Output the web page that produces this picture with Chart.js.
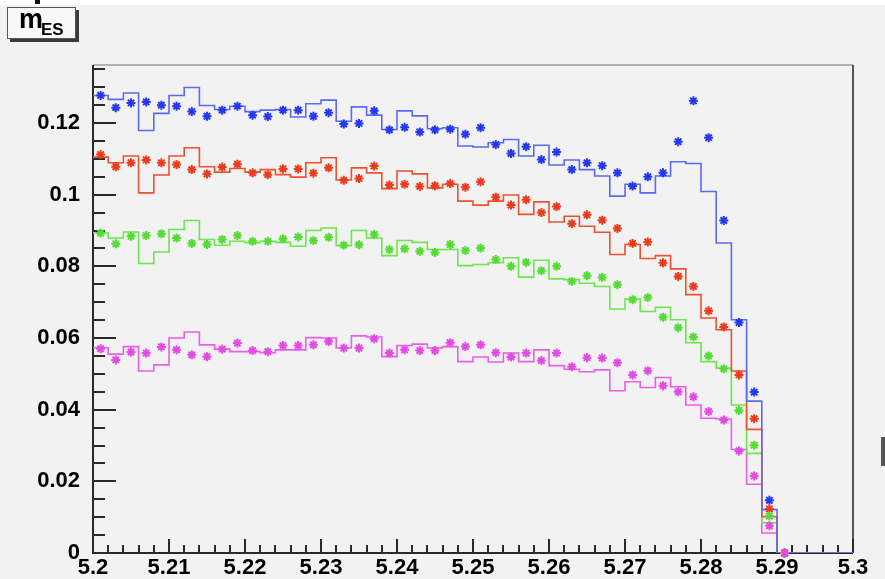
<!DOCTYPE html>
<html lang="en">
<head>
<meta charset="UTF-8" />
<title>mES</title>
<script src="https://cdn.jsdelivr.net/npm/chart.js"></script>
<style>
  body { margin: 0; background: #f2f2f2; }
  #wrap { position: relative; width: 885px; height: 579px; overflow: hidden; background: #f2f2f2; }
  #topstrip { position: absolute; left: 0; top: 0; width: 885px; height: 5px; background: #fff; }
  #topmark { position: absolute; left: 35px; top: 0; width: 5px; height: 4px; background: #111; }
  #rightmark { position: absolute; left: 881px; top: 437px; width: 4px; height: 29px; background: #555; }
  #titlebox { position: absolute; left: 7px; top: 7px; width: 67px; height: 30px; background: #f8f8f8;
              border: 1px solid #555; box-shadow: 3px 3px 0 #3a3a3a; }
  .tt { position: absolute; font-family: "Liberation Sans", Arial, sans-serif; font-weight: bold; line-height: 1; color: #000; }
  #tm { left: 19px; top: 6px; font-size: 27px; }
  #tsub { left: 41px; top: 21px; font-size: 17px; }
  canvas { position: absolute; left: 0; top: 0; }
</style>
</head>
<body>
<div id="wrap">
  <canvas id="chart" width="885" height="579"></canvas>
  <div id="topstrip"></div>
  <div id="topmark"></div>
  <div id="rightmark"></div>
  <div id="titlebox"></div>
  <span class="tt" id="tm">m</span><span class="tt" id="tsub">ES</span>
</div>

<script>
// 50 bins of 0.002 between 5.2 and 5.3
const binLow = 5.2;
const binWidth = 0.002;
const nBins = 50;

const xTicks = [5.2, 5.21, 5.22, 5.23, 5.24, 5.25, 5.26, 5.27, 5.28, 5.29, 5.3];
const yTicks = [0, 0.02, 0.04, 0.06, 0.08, 0.1, 0.12];
const yMax = 0.1362;

// histogram contents (solid step lines)
const blueHist = [0.1277,0.1266,0.1284,0.1179,0.1227,0.1277,0.1299,0.1249,0.1238,0.1247,0.1232,0.1236,0.1238,0.1217,0.1254,0.1264,0.1205,0.1245,
  0.1222,0.1182,0.1234,0.1220,0.1184,0.1187,0.1136,0.1133,0.1145,0.1154,0.1108,0.1138,0.1083,0.1097,0.1070,0.1052,0.0996,
  0.1029,0.1005,0.1052,0.1092,0.1087,0.1009,0.0865,0.0651,0.0424,0.0121,0,0,0,0,0];
const redHist = [0.1105,0.1089,0.1108,0.1005,0.1055,0.1108,0.1131,0.1078,0.1063,0.1073,0.1063,0.1070,0.1056,0.1049,0.1089,0.1103,0.1041,0.1075,
  0.1061,0.1017,0.1066,0.1058,0.1019,0.1029,0.0982,0.0971,0.0982,0.0999,0.0945,0.0980,0.0924,0.0940,0.0912,
  0.0895,0.0833,0.0861,0.0822,0.0830,0.0793,0.0721,0.0656,0.0623,0.0508,0.0345,0.0101,0,0,0,0,0];
const greenHist = [0.0893,0.0879,0.0896,0.0808,0.0840,0.0903,0.0928,0.0875,0.0859,0.0870,0.0866,0.0870,0.0867,0.0856,0.0900,0.0907,0.0858,0.0900,
  0.0879,0.0830,0.0872,0.0867,0.0847,0.0847,0.0802,0.0805,0.0810,0.0824,0.0770,0.0817,0.0765,0.0763,0.0753,0.0744,
  0.0681,0.0709,0.0674,0.0686,0.0651,0.0587,0.0534,0.0516,0.0413,0.0278,0.0084,0,0,0,0,0];
const magentaHist = [0.0573,0.0555,0.0576,0.0508,0.0525,0.0600,0.0617,0.0581,0.0569,0.0562,0.0562,0.0559,0.0567,0.0567,0.0601,0.0600,0.0572,0.0606,
  0.0603,0.0548,0.0579,0.0583,0.0572,0.0576,0.0534,0.0547,0.0533,0.0558,0.0534,0.0567,0.0523,0.0513,0.0506,0.0511,
  0.0453,0.0478,0.0462,0.0490,0.0464,0.0413,0.0376,0.0374,0.0289,0.0192,0.0056,0,0,0,0,0];

// star markers (bins 0..45)
const bluePts = [0.1277,0.1243,0.1256,0.1259,0.1250,0.1247,0.1232,0.1219,0.1236,0.1247,0.1222,0.1218,0.1236,0.1236,0.1219,0.1229,0.1197,0.1199,
  0.1234,0.1181,0.1188,0.1175,0.1181,0.1183,0.1169,0.1187,0.1140,0.1115,0.1134,0.1098,0.1119,0.1070,0.1089,0.1081,0.1061,
  0.1024,0.1050,0.1061,0.1148,0.1262,0.1159,0.0928,0.0643,0.0449,0.0147,0];
const redPts = [0.1112,0.1078,0.1089,0.1097,0.1089,0.1084,0.1070,0.1058,0.1077,0.1085,0.1061,0.1056,0.1072,0.1072,0.1060,0.1075,0.1040,0.1045,
  0.1080,0.1027,0.1029,0.1023,0.1025,0.1031,0.1021,0.1036,0.0993,0.0971,0.0986,0.0950,0.0967,0.0919,0.0944,0.0929,0.0906,
  0.0864,0.0868,0.0810,0.0772,0.0744,0.0676,0.0631,0.0497,0.0375,0.0123,0];
const greenPts = [0.0893,0.0863,0.0884,0.0886,0.0891,0.0879,0.0864,0.0861,0.0875,0.0886,0.0870,0.0870,0.0877,0.0882,0.0872,0.0881,0.0859,0.0860,
  0.0889,0.0847,0.0849,0.0842,0.0839,0.0861,0.0844,0.0851,0.0819,0.0800,0.0811,0.0788,0.0800,0.0758,0.0774,0.0769,0.0749,
  0.0707,0.0713,0.0658,0.0629,0.0603,0.0550,0.0514,0.0398,0.0301,0.0103,0];
const magentaPts = [0.0570,0.0539,0.0561,0.0558,0.0575,0.0567,0.0553,0.0548,0.0569,0.0586,0.0565,0.0562,0.0579,0.0579,0.0581,0.0590,0.0572,0.0572,
  0.0598,0.0558,0.0567,0.0565,0.0565,0.0587,0.0576,0.0581,0.0559,0.0547,0.0558,0.0537,0.0558,0.0520,0.0545,0.0544,0.0531,
  0.0497,0.0509,0.0467,0.0450,0.0436,0.0395,0.0371,0.0285,0.0215,0.0076,0];

function histData(vals) {
  const d = vals.map((v, i) => ({ x: binLow + i * binWidth, y: v }));
  d.push({ x: binLow + nBins * binWidth, y: vals[vals.length - 1] });
  return d;
}
function pointData(vals) {
  return vals.map((v, i) => ({ x: binLow + (i + 0.5) * binWidth, y: v }));
}

function histSet(vals, color) {
  // 'before': horizontal at the bin's own value, then the vertical jump at the next edge
  return { data: histData(vals), borderColor: color, borderWidth: 1.6, pointRadius: 0,
           stepped: 'before', fill: false, order: 5 };
}
function ptSet(vals, color, order) {
  return { data: pointData(vals), showLine: false, pointStyle: 'star', pointRadius: 4.5,
           pointBorderWidth: 2, borderColor: color, backgroundColor: color, clip: false, order: order };
}

// ROOT style frame with inward ticks
const frameTicks = {
  id: 'frameTicks',
  beforeDatasetsDraw(chart) {
    const { ctx, chartArea: a, scales: { x, y } } = chart;
    ctx.save();
    ctx.lineCap = 'butt';
    ctx.strokeStyle = '#9c9c9c'; ctx.lineWidth = 1.5;
    ctx.beginPath(); ctx.moveTo(a.left, a.top); ctx.lineTo(a.right, a.top); ctx.stroke();
    ctx.strokeStyle = '#555'; ctx.lineWidth = 2;
    ctx.beginPath(); ctx.moveTo(a.right, a.top); ctx.lineTo(a.right, a.bottom); ctx.stroke();

    ctx.strokeStyle = '#2a2a2a'; ctx.lineWidth = 2;
    ctx.beginPath();
    ctx.moveTo(a.left, a.top); ctx.lineTo(a.left, a.bottom); ctx.lineTo(a.right, a.bottom);
    for (let k = 0; k * 0.005 <= yMax; k++) {
      const py = Math.round(y.getPixelForValue(k * 0.005));
      ctx.moveTo(a.left, py); ctx.lineTo(a.left + (k % 4 === 0 ? 23 : 12), py);
    }
    for (let k = 0; k <= nBins; k++) {
      const px = Math.round(x.getPixelForValue(binLow + k * binWidth));
      ctx.moveTo(px, a.bottom); ctx.lineTo(px, a.bottom - (k % 5 === 0 ? 14 : 8));
    }
    ctx.stroke();
    ctx.restore();
  }
};

const fmt = v => String(parseFloat(v.toFixed(3)));

new Chart(document.getElementById('chart'), {
  type: 'line',
  data: {
    datasets: [
      histSet(blueHist, '#5a6af6'),
      histSet(redHist, '#f0502e'),
      histSet(greenHist, '#6ae84a'),
      histSet(magentaHist, '#ee5cee'),
      ptSet(bluePts, '#2438f0', 3),
      ptSet(redPts, '#ea3c1c', 2),
      ptSet(greenPts, '#55dc34', 1),
      ptSet(magentaPts, '#e34ae3', 0)
    ]
  },
  options: {
    responsive: false,
    animation: false,
    layout: { padding: { top: 65, right: 32, left: 0, bottom: 0 } },
    plugins: { legend: { display: false }, tooltip: { enabled: false } },
    scales: {
      x: {
        type: 'linear', min: 5.2, max: 5.3,
        afterBuildTicks: s => { s.ticks = xTicks.map(v => ({ value: v })); },
        afterFit: s => { s.height = 26; },
        grid: { display: false }, border: { display: false },
        ticks: { padding: -6, color: '#000', maxRotation: 0, autoSkip: false,
                 font: { family: 'Liberation Sans', size: 22, weight: 'bold' },
                 callback: v => fmt(v) }
      },
      y: {
        type: 'linear', min: 0, max: yMax,
        afterBuildTicks: s => { s.ticks = yTicks.map(v => ({ value: v })); },
        afterFit: s => { s.width = 93; },
        grid: { display: false }, border: { display: false },
        ticks: { padding: 5, color: '#000',
                 font: { family: 'Liberation Sans', size: 22, weight: 'bold' },
                 callback: v => fmt(v) }
      }
    }
  },
  plugins: [frameTicks]
});
</script>
</body>
</html>
